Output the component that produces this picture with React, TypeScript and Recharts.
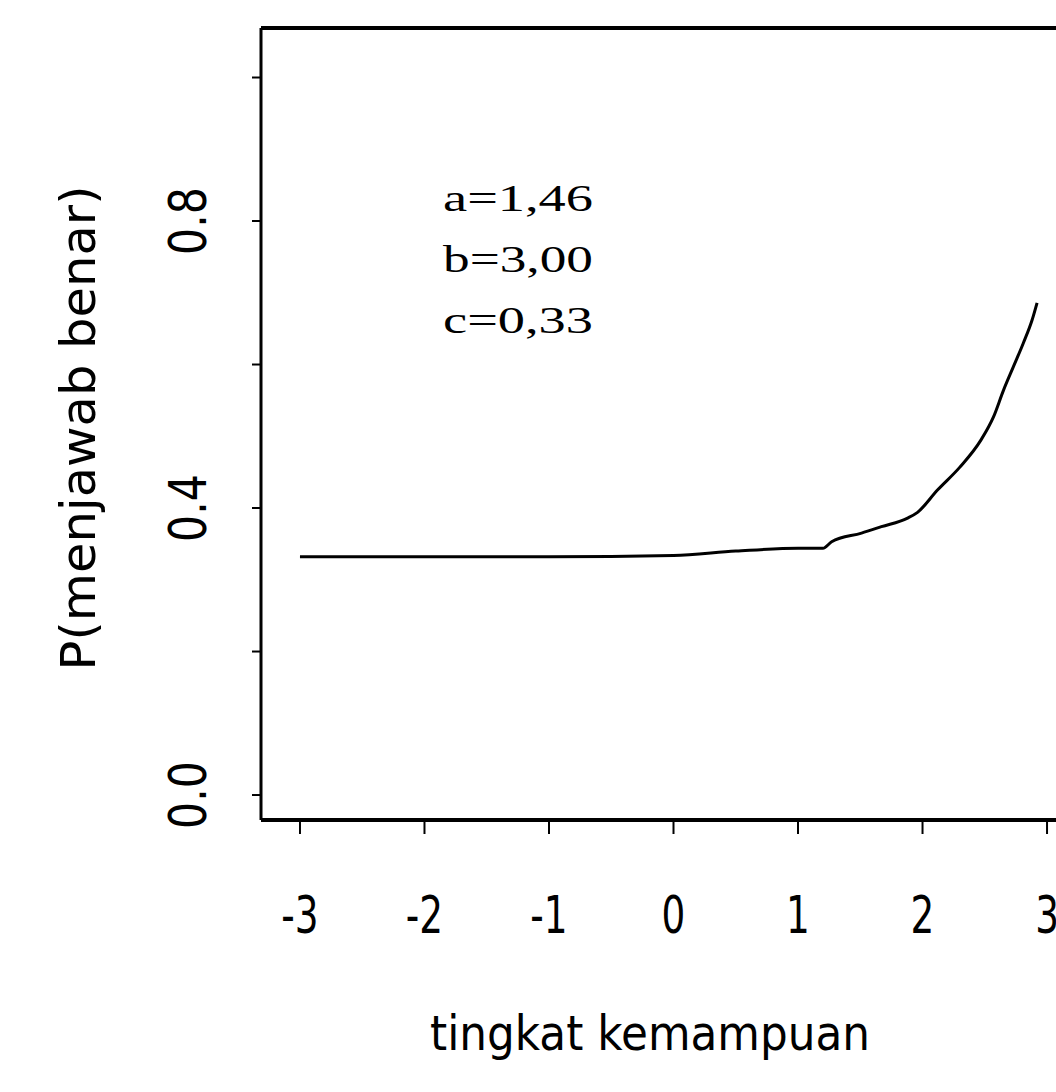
import React from "react";
import { LineChart, Line, XAxis, YAxis, ReferenceLine, Customized } from "recharts";

const thetaValues = [-3, -2, -1, 0, 0.5, 1, 1.2, 1.27, 1.51, 1.67, 1.88, 1.96, 2.12, 2.3, 2.47, 2.57, 2.65, 2.73, 2.81, 2.88, 2.92];
const probValues = [0.332, 0.332, 0.332, 0.334, 0.34, 0.344, 0.344, 0.353, 0.365, 0.374, 0.386, 0.394, 0.425, 0.457, 0.495, 0.527, 0.564, 0.597, 0.63, 0.662, 0.686];
const xTicks = [-3, -2, -1, 0, 1, 2, 3];
const yTicks = [0, 0.2, 0.4, 0.6, 0.8, 1.0];
const yLabeled = [0, 0.4, 0.8];
const paramLines = ["a=1,46", "b=3,00", "c=0,33"];
const xTitle = "tingkat kemampuan";
const yTitle = "P(menjawab benar)";

const data = thetaValues.map((t, i) => ({ theta: t, p: probValues[i] }));

const X_DOMAIN: [number, number] = [-3.313, 3.072];
const Y_DOMAIN: [number, number] = [-0.0348, 1.069];

const tickFont = "'DejaVu Sans', sans-serif";

const XTick = (props: any) => {
  const { x, y, payload } = props;
  return (
    <text
      transform={`translate(${x},${y + 97}) scale(0.72,1)`}
      textAnchor="middle"
      fontFamily={tickFont}
      fontSize={52}
      fill="#000"
    >
      {String(payload.value)}
    </text>
  );
};

const YTick = (props: any) => {
  const { x, y, payload } = props;
  const v = Number(payload.value);
  if (!yLabeled.some((l) => Math.abs(l - v) < 1e-9)) return <g />;
  return (
    <text
      transform={`translate(${x - 44},${y}) rotate(-90) scale(0.82,1)`}
      textAnchor="middle"
      fontFamily={tickFont}
      fontSize={52}
      fill="#000"
    >
      {v.toFixed(1)}
    </text>
  );
};

const Annotations = () => (
  <g>
    {paramLines.map((s, i) => (
      <text
        key={s}
        x={443}
        y={211 + i * 61}
        fontFamily="'Liberation Serif', 'Times New Roman', serif"
        fontSize={38}
        textLength={150}
        lengthAdjust="spacingAndGlyphs"
        fill="#000"
      >
        {s}
      </text>
    ))}
    <text
      x={650}
      y={1050}
      textAnchor="middle"
      fontFamily={tickFont}
      fontSize={48}
      textLength={440}
      lengthAdjust="spacingAndGlyphs"
      fill="#000"
    >
      {xTitle}
    </text>
    <text
      transform="translate(95,428) rotate(-90)"
      textAnchor="middle"
      fontFamily={tickFont}
      fontSize={48}
      textLength={485}
      lengthAdjust="spacingAndGlyphs"
      fill="#000"
    >
      {yTitle}
    </text>
  </g>
);

export default function App() {
  return (
    <div style={{ position: "absolute", left: 0, top: 0, width: 1056, height: 1092, background: "#fff" }}>
      <LineChart width={1056} height={1092} data={data} margin={{ top: 28, right: 0, bottom: 0, left: 0 }}>
        <XAxis
          type="number"
          dataKey="theta"
          domain={X_DOMAIN}
          ticks={xTicks}
          allowDataOverflow
          height={272}
          tickSize={14}
          tickMargin={2}
          axisLine={{ stroke: "#000", strokeWidth: 4 }}
          tickLine={{ stroke: "#000", strokeWidth: 2 }}
          tick={<XTick />}
          interval={0}
        />
        <YAxis
          type="number"
          domain={Y_DOMAIN}
          ticks={yTicks}
          allowDataOverflow
          width={261}
          tickSize={9}
          tickMargin={2}
          axisLine={{ stroke: "#000", strokeWidth: 3 }}
          tickLine={{ stroke: "#000", strokeWidth: 2 }}
          tick={<YTick />}
          interval={0}
        />
        <ReferenceLine y={Y_DOMAIN[1]} stroke="#000" strokeWidth={4} ifOverflow="visible" />
        <Line
          type="monotone"
          dataKey="p"
          stroke="#000"
          strokeWidth={3}
          dot={false}
          isAnimationActive={false}
        />
        <Customized component={Annotations} />
      </LineChart>
    </div>
  );
}
